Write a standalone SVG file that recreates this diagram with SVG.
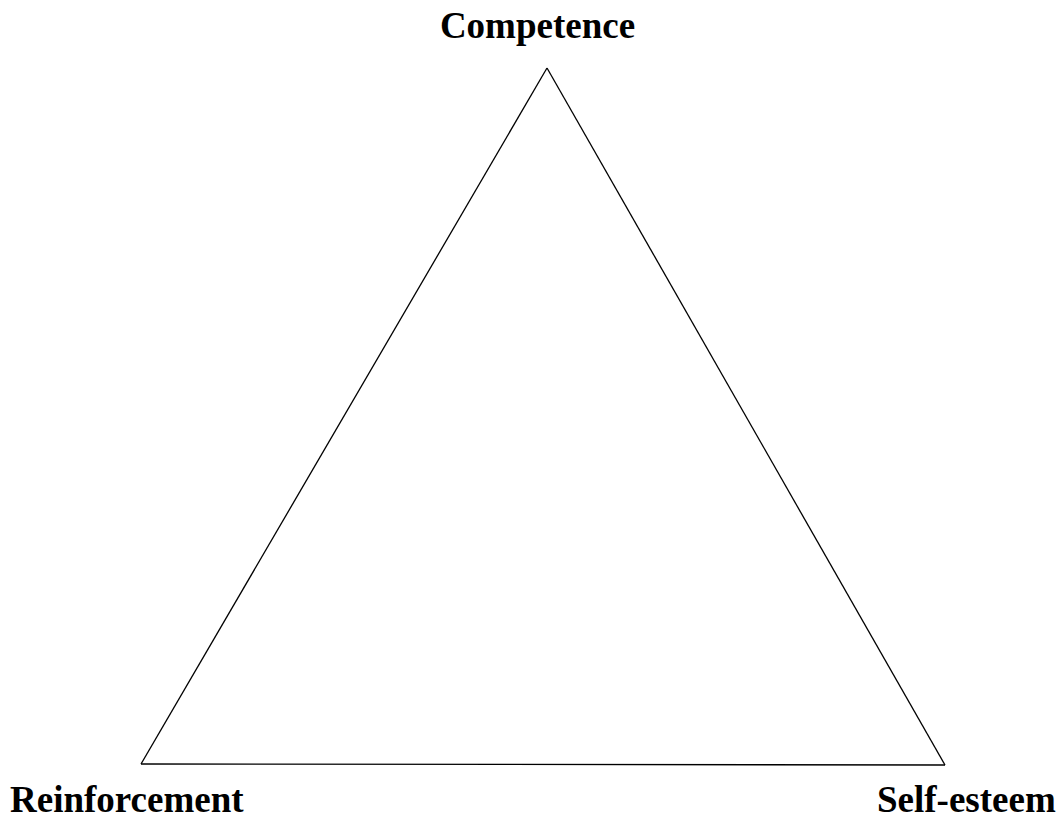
<svg xmlns="http://www.w3.org/2000/svg" width="1057" height="816" viewBox="0 0 1057 816">
<style>
.lbl{font-family:"Liberation Serif","Times New Roman",serif;font-weight:bold;font-size:37px;fill:#000}
.edge{fill:none;stroke:#000;stroke-width:1.3}
</style>
<rect width="1057" height="816" fill="#fff"/>
<g id="connectors">
<path class="edge" d="M547,68 L141,764"/>
<path class="edge" d="M547,68 L945,765"/>
<path class="edge" d="M141,764 L945,765"/>
</g>
<g id="competence"><text class="lbl" x="537.5" y="37.5" text-anchor="middle">Competence</text></g>
<g id="reinforcement"><text class="lbl" x="10" y="812">Reinforcement</text></g>
<g id="self-esteem"><text class="lbl" x="877" y="812">Self-esteem</text></g>
</svg>
